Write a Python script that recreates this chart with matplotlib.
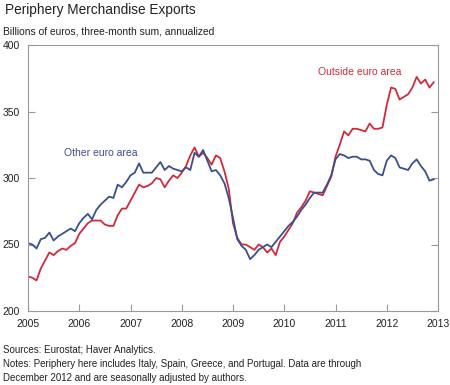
import numpy as np
import matplotlib
matplotlib.use("Agg")
import matplotlib.pyplot as plt

# ================= DATA =================
START_YEAR = 2005
# monthly, Jan 2005 - Dec 2012, billions of euros
other_euro = [
    251, 250, 247, 254, 255, 259, 253, 256, 258, 260, 262, 260,
    266, 270, 273, 269, 276, 280, 283, 286, 285, 295, 293, 297,
    302, 304, 311, 304, 304, 304, 308, 312, 306, 309, 307, 306,
    305, 308, 306, 319, 316, 321, 313, 305, 306, 302, 296, 285,
    270, 254, 249, 246, 239, 242, 246, 248, 250, 248, 252, 256,
    260, 264, 267, 271, 276, 280, 285, 289, 289, 289, 295, 302,
    314, 318, 317, 315, 316, 316, 314, 314, 313, 306, 303, 302,
    313, 317, 315, 308, 307, 306, 311, 314, 309, 305, 298, 299,
]
outside_euro = [
    226, 225, 223, 232, 238, 244, 242, 245, 247, 246, 249, 251,
    258, 262, 266, 268, 268, 268, 265, 264, 264, 272, 277, 277,
    283, 289, 295, 293, 294, 296, 300, 299, 293, 298, 302, 300,
    304, 309, 317, 323, 316, 319, 315, 310, 317, 315, 305, 292,
    266, 255, 250, 250, 248, 246, 250, 248, 244, 247, 242, 252,
    256, 261, 266, 274, 278, 283, 290, 289, 288, 287, 294, 301,
    316, 325, 335, 332, 337, 337, 336, 335, 341, 337, 337, 338,
    355, 368, 367, 359, 361, 363, 368, 376, 371, 374, 368, 372,
]
year_ticks = list(range(2005, 2014))
value_ticks = [200, 250, 300, 350, 400]
# ========================================

BLUE = "#3b4f8e"
RED = "#d12a3a"
GREY = "#9a9a9a"
TXT = "#222222"

plt.rcParams['font.family'] = ['Liberation Sans', 'DejaVu Sans']

t = START_YEAR + np.arange(len(other_euro)) / 12.0

fig = plt.figure(figsize=(4.5, 3.85), dpi=100)
ax = fig.add_axes([28 / 450, 1 - 311 / 385, 410 / 450, 266 / 385])

ax.plot(t, outside_euro, color=RED, lw=1.3)
ax.plot(t, other_euro, color=BLUE, lw=1.3)

ax.set_xlim(2005, 2013)
ax.set_ylim(200, 400)
ax.set_xticks(year_ticks)
ax.set_yticks(value_ticks)
ax.tick_params(axis="both", direction="in", length=5, color=GREY,
               labelsize=7.5, labelcolor=TXT)
ax.tick_params(axis="y", right=True, pad=6)
ax.tick_params(axis="x", pad=6)
for s in ax.spines.values():
    s.set_color(GREY)
    s.set_linewidth(0.8)

# series labels instead of a legend
ax.text(2005.70, 319, "Other euro area", color=BLUE, fontsize=7.5, va="center")
ax.text(2010.66, 380, "Outside euro area", color=RED, fontsize=7.5, va="center")

fig.text(5 / 450, 1 - 10 / 385, "Periphery Merchandise Exports",
         fontsize=9.8, va="center", color=TXT)
fig.text(3 / 450, 1 - 32 / 385, "Billions of euros, three-month sum, annualized",
         fontsize=7.4, va="center", color=TXT)
fig.text(3 / 450, 1 - 350 / 385, "Sources: Eurostat; Haver Analytics.",
         fontsize=7, va="center", color=TXT)
fig.text(3 / 450, 1 - 364 / 385,
         "Notes: Periphery here includes Italy, Spain, Greece, and Portugal. Data are through",
         fontsize=7, va="center", color=TXT)
fig.text(3 / 450, 1 - 378 / 385,
         "December 2012 and are seasonally adjusted by authors.",
         fontsize=7, va="center", color=TXT)

fig.savefig("out.png", dpi=100)
